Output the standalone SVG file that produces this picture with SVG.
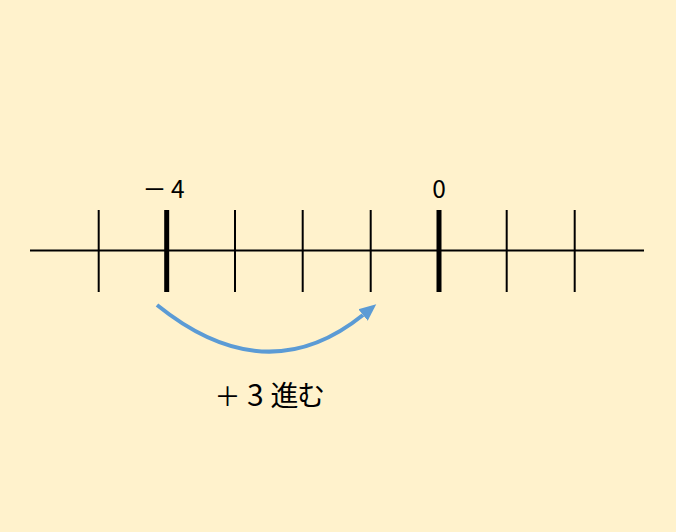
<svg xmlns="http://www.w3.org/2000/svg" width="676" height="532" viewBox="0 0 676 532">
<style>
.axis{stroke:#000;stroke-width:2;fill:none}
.tick{stroke:#000;stroke-width:2}
.major{stroke:#000;stroke-width:5}
.lbl{font-family:"Noto Sans CJK JP","Noto Sans",sans-serif;fill:#000}
.arc{stroke:#5B9BD5;stroke-width:4;fill:none}
</style>
<defs>
<marker id="ah" markerUnits="userSpaceOnUse" markerWidth="18" markerHeight="16" refX="0" refY="8" orient="auto">
<path d="M0,0.5 L17,8 L0,15.5 z" fill="#5B9BD5"/>
</marker>
</defs>
<rect width="676" height="532" fill="#FFF2CC"/>
<g id="numberline">
<line class="axis" x1="30" y1="250.5" x2="644" y2="250.5"/>
<line class="tick" x1="98.7" y1="210" x2="98.7" y2="292"/>
<line class="major" x1="166.7" y1="210" x2="166.7" y2="292"/>
<line class="tick" x1="235" y1="210" x2="235" y2="292"/>
<line class="tick" x1="302.7" y1="210" x2="302.7" y2="292"/>
<line class="tick" x1="370.7" y1="210" x2="370.7" y2="292"/>
<line class="major" x1="439" y1="210" x2="439" y2="292"/>
<line class="tick" x1="506.7" y1="210" x2="506.7" y2="292"/>
<line class="tick" x1="574.7" y1="210" x2="574.7" y2="292"/>
</g>
<g id="label-minus4"><text class="lbl" y="197.5" font-size="24.5"><tspan x="142.5" font-size="24">－</tspan><tspan x="171">4</tspan></text></g>
<g id="label-0"><text class="lbl" x="439" y="197.5" font-size="24.5" text-anchor="middle">0</text></g>
<g id="connectors">
<path class="arc" d="M157,305 Q266,393 363,315" marker-end="url(#ah)"/>
</g>
<g id="label-plus3"><text class="lbl" y="405.5" font-size="28"><tspan x="214.5" font-size="26">＋</tspan><tspan x="247" font-size="30">3</tspan><tspan x="270.5">進</tspan><tspan x="297">む</tspan></text></g>
</svg>
